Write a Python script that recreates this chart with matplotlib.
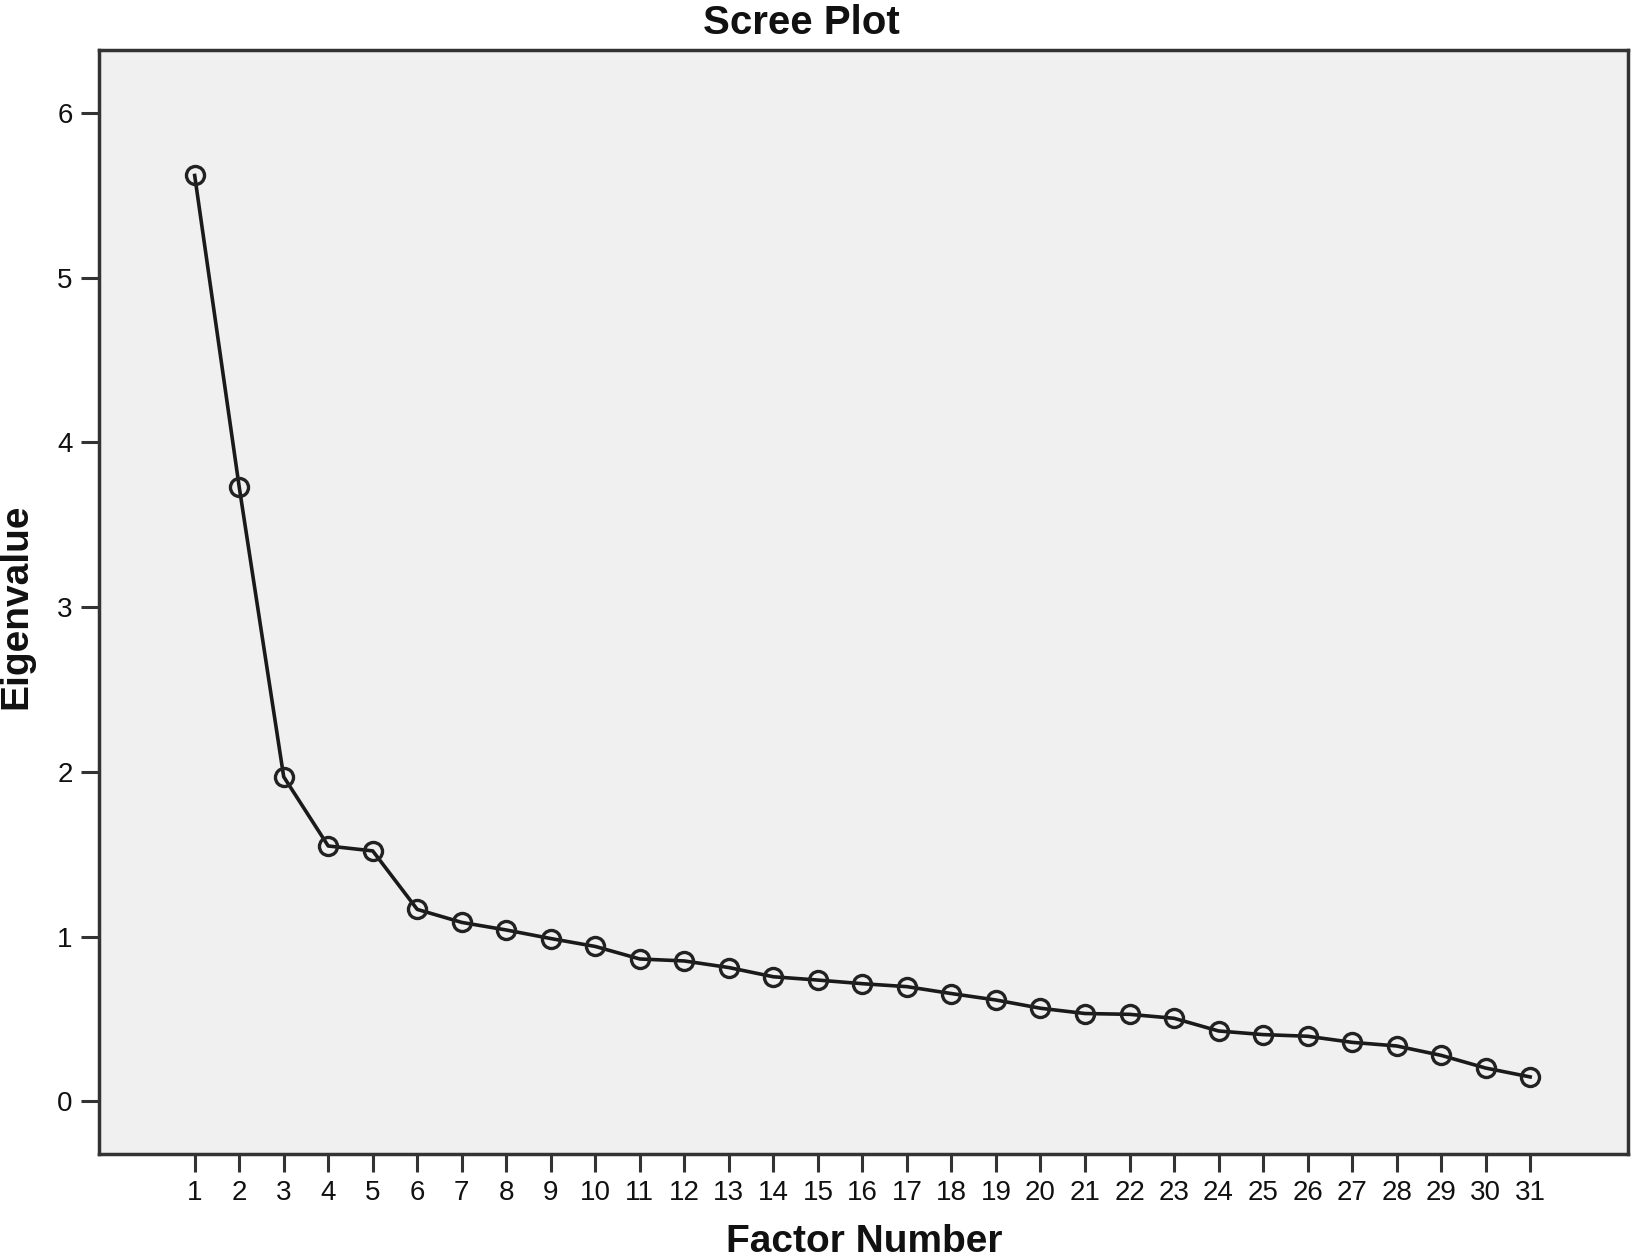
import matplotlib
matplotlib.use("Agg")
import matplotlib.pyplot as plt
import numpy as np

factors = list(range(1, 32))
eigenvalues = [5.62, 3.73, 1.97, 1.55, 1.52, 1.165, 1.086, 1.04, 0.988, 0.94,
               0.864, 0.852, 0.812, 0.756, 0.736, 0.714, 0.696, 0.654, 0.615, 0.565,
               0.533, 0.528, 0.504, 0.427, 0.405, 0.395, 0.358, 0.336, 0.279, 0.202,
               0.148]
y_ticks = [0, 1, 2, 3, 4, 5, 6]

plt.rcParams['font.family'] = ['Liberation Sans', 'DejaVu Sans']

fig = plt.figure(figsize=(16.33, 12.6), dpi=100)
ax = fig.add_axes([0.0606, 0.0841, 0.9364, 0.876])
ax.set_facecolor('#f0f0f0')

ax.plot(factors, eigenvalues, color='#1a1a1a', lw=2.6, marker='o', ms=13,
        mfc='none', mec='#222222', mew=2.4, zorder=3)

ax.set_xlim(-1.15, 33.2)
ax.set_ylim(-0.32, 6.38)
ax.set_xticks(factors)
ax.set_xticklabels([str(f) for f in factors])
ax.set_yticks(y_ticks)

for s in ax.spines.values():
    s.set_color('#333333')
    s.set_linewidth(2.5)

ax.tick_params(axis='both', direction='out', length=13, width=2.2,
               color='#333333', labelsize=20, pad=6, labelcolor='#111111')

fig.text(0.491, 0.982, 'Scree Plot', ha='center', va='center',
         fontsize=29, fontweight='bold', color='#111111')
fig.text(0.529, 0.014, 'Factor Number', ha='center', va='center',
         fontsize=28, fontweight='bold', color='#111111')
fig.text(0.010, 0.519, 'Eigenvalue', ha='center', va='center', rotation=90,
         fontsize=28, fontweight='bold', color='#111111')

fig.savefig('out.png', dpi=100)
